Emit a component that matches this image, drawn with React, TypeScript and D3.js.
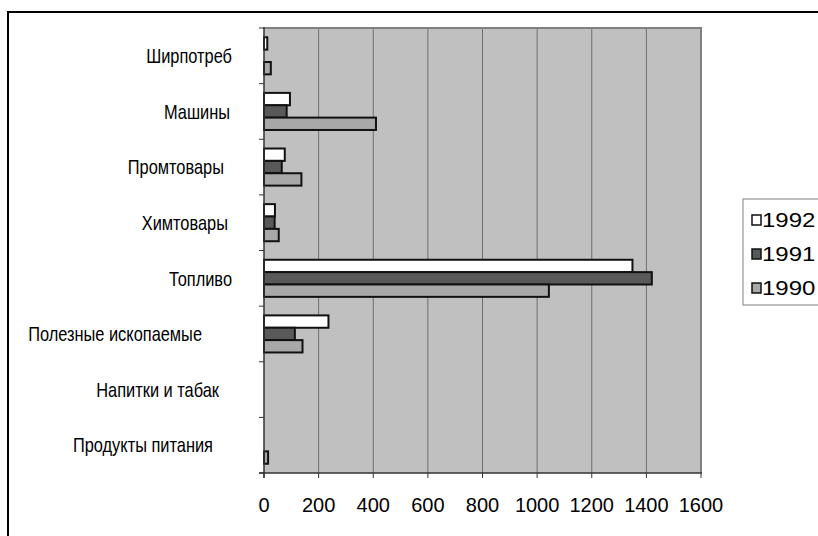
import React from "react";
import * as d3 from "d3";

const categories = [
  "Ширпотреб",
  "Машины",
  "Промтовары",
  "Химтовары",
  "Топливо",
  "Полезные ископаемые",
  "Напитки и табак",
  "Продукты питания",
];
const series = ["1992", "1991", "1990"];
const values1992 = [12, 95, 76, 40, 1349, 236, 0, 0];
const values1991 = [0, 83, 65, 39, 1420, 113, 0, 0];
const values1990 = [25, 410, 137, 54, 1043, 141, 0, 15];
const xTicks = [0, 200, 400, 600, 800, 1000, 1200, 1400, 1600];

// layout / style (not data)
const labelRight = [232, 230, 224, 228, 232, 202, 219, 213];
const fills: Record<string, string> = { "1992": "#ffffff", "1991": "#595959", "1990": "#a8a8a8" };

const W = 818, H = 536;
const plot = { left: 264, right: 701, top: 28, bottom: 473 };

export default function App() {
  const valuesBySeries: Record<string, number[]> = {
    "1992": values1992,
    "1991": values1991,
    "1990": values1990,
  };
  const x = d3.scaleLinear().domain([0, 1600]).range([plot.left, plot.right]);
  const y = d3.scaleBand<string>().domain(categories).range([plot.top, plot.bottom]).padding(0);
  const bw = y.bandwidth();
  const gap = (bw * 0.75) / 4.5;
  const inner = d3.scaleBand<string>().domain(series).range([gap, bw - gap]).padding(0);
  const boundaries = d3.range(categories.length + 1).map((i) => plot.top + i * bw);
  const font = "'Liberation Sans', Arial, sans-serif";

  return (
    <svg width={W} height={H} style={{ position: "absolute", left: 0, top: 0, background: "#fff" }}>
      {/* outer frame */}
      <rect x={8} y={12} width={900} height={700} fill="#fff" stroke="#000" strokeWidth={2} />
      {/* plot area */}
      <rect x={plot.left} y={plot.top} width={plot.right - plot.left} height={plot.bottom - plot.top} fill="#c0c0c0" />
      {/* gridlines */}
      {xTicks.slice(1).map((t) => (
        <line key={"g" + t} x1={x(t)} x2={x(t)} y1={plot.top} y2={plot.bottom} stroke="#6e6e6e" strokeWidth={1} />
      ))}
      {/* plot border top/right */}
      <line x1={plot.left} x2={plot.right + 1} y1={plot.top} y2={plot.top} stroke="#808080" strokeWidth={2} />
      <line x1={plot.right} x2={plot.right} y1={plot.top} y2={plot.bottom} stroke="#808080" strokeWidth={2} />
      {/* bars */}
      {categories.map((c, i) =>
        series.map((s) => {
          const v = valuesBySeries[s][i];
          if (!v) return null;
          const yy = (y(c) as number) + (inner(s) as number);
          return (
            <rect
              key={c + s}
              x={x(0)}
              y={yy}
              width={x(v) - x(0)}
              height={inner.bandwidth()}
              fill={fills[s]}
              stroke="#111"
              strokeWidth={2}
            />
          );
        })
      )}
      {/* axes */}
      <line x1={plot.left} x2={plot.left} y1={plot.top - 1} y2={plot.bottom + 5} stroke="#333" strokeWidth={1.5} />
      <line x1={plot.left - 5} x2={plot.right + 1} y1={plot.bottom} y2={plot.bottom} stroke="#333" strokeWidth={1.5} />
      {boundaries.map((b, i) => (
        <line key={"yt" + i} x1={plot.left - 5} x2={plot.left} y1={b} y2={b} stroke="#333" strokeWidth={1} />
      ))}
      {xTicks.map((t) => (
        <line key={"xt" + t} x1={x(t)} x2={x(t)} y1={plot.bottom} y2={plot.bottom + 5} stroke="#333" strokeWidth={1} />
      ))}
      {xTicks.map((t) => (
        <text key={"xl" + t} x={x(t)} y={512} textAnchor="middle" fontFamily={font} fontSize={20} fill="#000">
          {t}
        </text>
      ))}
      {categories.map((c, i) => (
        <text
          key={"cl" + c}
          transform={`translate(${labelRight[i]},${(y(c) as number) + bw / 2}) scale(0.82,1)`}
          dy="0.36em"
          textAnchor="end"
          fontFamily={font}
          fontSize={20}
          fill="#000"
        >
          {c}
        </text>
      ))}
      {/* legend */}
      <rect x={743} y={199} width={120} height={106} fill="#fff" stroke="#808080" strokeWidth={1} />
      {series.map((s, i) => {
        const cy = 220 + i * 34;
        return (
          <g key={"lg" + s}>
            <rect x={752} y={cy - 5} width={9} height={10} fill={fills[s]} stroke="#111" strokeWidth={1.5} />
            <text
              transform={`translate(762,${cy}) scale(1.2,1)`}
              dy="0.36em"
              fontFamily={font}
              fontSize={20}
              fill="#000"
            >
              {s}
            </text>
          </g>
        );
      })}
    </svg>
  );
}
